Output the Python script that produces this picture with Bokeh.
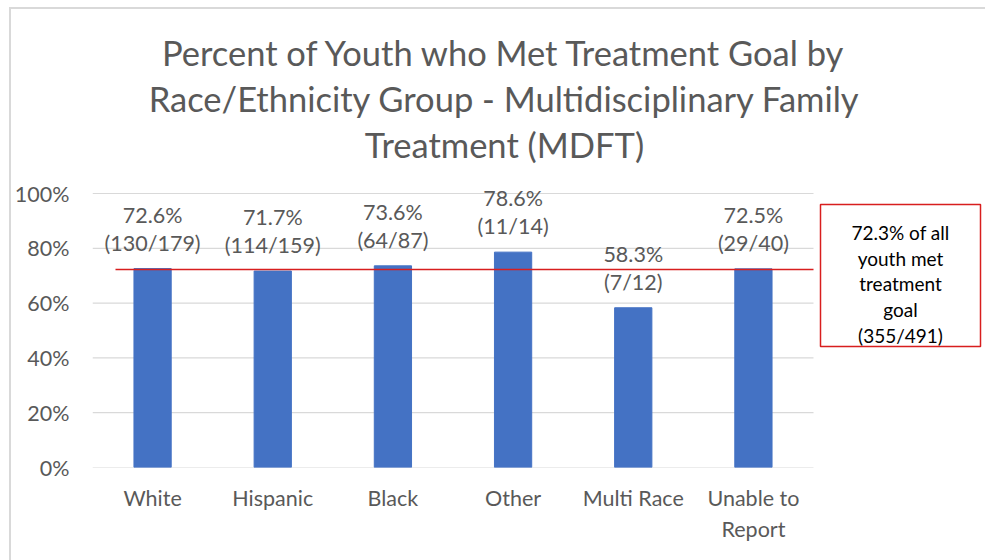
from bokeh.plotting import figure
from bokeh.models import (Range1d, FixedTicker, PrintfTickFormatter, BoxAnnotation,
                          Label, InlineStyleSheet)
from bokeh.core.properties import value
from bokeh.embed import file_html
from bokeh.resources import INLINE

# ---- data ----
categories = ["White", "Hispanic", "Black", "Other", "Multi Race", "Unable to\nReport"]
pct_met = [72.6, 71.7, 73.6, 78.6, 58.3, 72.5]
met_counts = [130, 114, 64, 11, 7, 29]
group_totals = [179, 159, 87, 14, 12, 40]
overall_pct = 72.3
overall_met = 355
overall_total = 491
y_ticks = [0, 20, 40, 60, 80, 100]
title_lines = [
    "Percent of Youth who Met Treatment Goal by",
    "Race/Ethnicity Group - Multidisciplinary Family",
    "Treatment (MDFT)",
]

# ---- layout constants (canvas pixels) ----
W, H = 985, 560
PLOT_L, PLOT_R, PLOT_B = 92, 813, 467      # extent of the bar area
PX_PER_PCT = 2.74
N = len(categories)
PX_PER_CAT = (PLOT_R - PLOT_L) / N

FONT = "Lato"
GRAY = "#595959"
BLUE = "#4472C4"
RED = "#D81E1E"
GRID = "#D9D9D9"


def sx(px):
    """canvas x pixel -> data x coordinate"""
    return (px - PLOT_L) / PX_PER_CAT


def sy(py):
    """canvas y pixel -> data y coordinate"""
    return (PLOT_B - py) / PX_PER_PCT


x_pos = [i + 0.5 for i in range(N)]

p = figure(
    width=W, height=H,
    x_range=Range1d(0, sx(W)),
    y_range=Range1d(0, sy(0)),
    output_backend="svg", toolbar_location=None,
    min_border_left=PLOT_L, min_border_right=0,
    min_border_top=0, min_border_bottom=H - PLOT_B,
)
p.outline_line_color = None
p.background_fill_color = "white"
p.border_fill_color = "white"

# light gray chart border
p.stylesheets = [InlineStyleSheet(css=f"""
:host::after {{
  content: "";
  position: absolute;
  left: 9px; top: 7px; right: 0; bottom: 0;
  border-left: 2px solid {GRID};
  border-top: 2px solid {GRID};
  pointer-events: none;
}}
""")]

# y axis
p.yaxis.ticker = FixedTicker(ticks=y_ticks)
p.yaxis.formatter = PrintfTickFormatter(format="%d%%")
p.yaxis.axis_line_color = None
p.yaxis.major_tick_line_color = None
p.yaxis.minor_tick_line_color = None
p.yaxis.major_label_standoff = 17
p.yaxis.major_label_text_font = FONT
p.yaxis.major_label_text_font_size = "21.5px"
p.yaxis.major_label_text_color = GRAY

# x axis with category names
p.xaxis.ticker = FixedTicker(ticks=x_pos)
p.xaxis.major_label_overrides = {x: c for x, c in zip(x_pos, categories)}
p.xaxis.axis_line_color = None
p.xaxis.major_tick_line_color = None
p.xaxis.minor_tick_line_color = None
p.xaxis.major_label_standoff = 11
p.xaxis.major_label_text_font = FONT
p.xaxis.major_label_text_font_size = "21.5px"
p.xaxis.major_label_text_color = GRAY

# horizontal gridlines limited to the bar area
p.xgrid.grid_line_color = None
p.ygrid.grid_line_color = None
p.segment(x0=0, x1=N, y0=y_ticks, y1=y_ticks, line_color=GRID, line_width=1.2)

# bars
p.vbar(x=x_pos, top=pct_met, width=0.31, color=BLUE)

# value labels above bars
pct_text = [f"{v:.1f}%" for v in pct_met]
count_text = [f"({m}/{t})" for m, t in zip(met_counts, group_totals)]
for txt, off in ((pct_text, -54), (count_text, -26)):
    p.text(x=x_pos, y=pct_met, text=txt, y_offset=off,
           text_align="center", text_baseline="middle",
           text_font=value(FONT), text_font_size="21.5px", text_color=GRAY)

# overall reference line
p.segment(x0=sx(115), y0=overall_pct, x1=N, y1=overall_pct,
          line_color=RED, line_width=1.5)

# callout box with the overall rate
p.add_layout(BoxAnnotation(left=sx(820), right=sx(980), top=sy(204), bottom=sy(346),
                           fill_color="white", fill_alpha=1,
                           line_color=RED, line_alpha=1, line_width=1.5))
box_lines = [f"{overall_pct}% of all", "youth met", "treatment", "goal",
             f"({overall_met}/{overall_total})"]
for i, line in enumerate(box_lines):
    p.add_layout(Label(x=sx(900), y=sy(232 + i * 25.7), text=line,
                       text_align="center", text_baseline="middle",
                       text_font=FONT, text_font_size="19px", text_color="black"))

# title
for i, line in enumerate(title_lines):
    p.add_layout(Label(x=sx(504), y=sy(52 + i * 46), text=line,
                       text_align="center", text_baseline="middle",
                       text_font=FONT, text_font_size="34.5px", text_color=GRAY))

open("out.html", "w").write(file_html(p, INLINE))
